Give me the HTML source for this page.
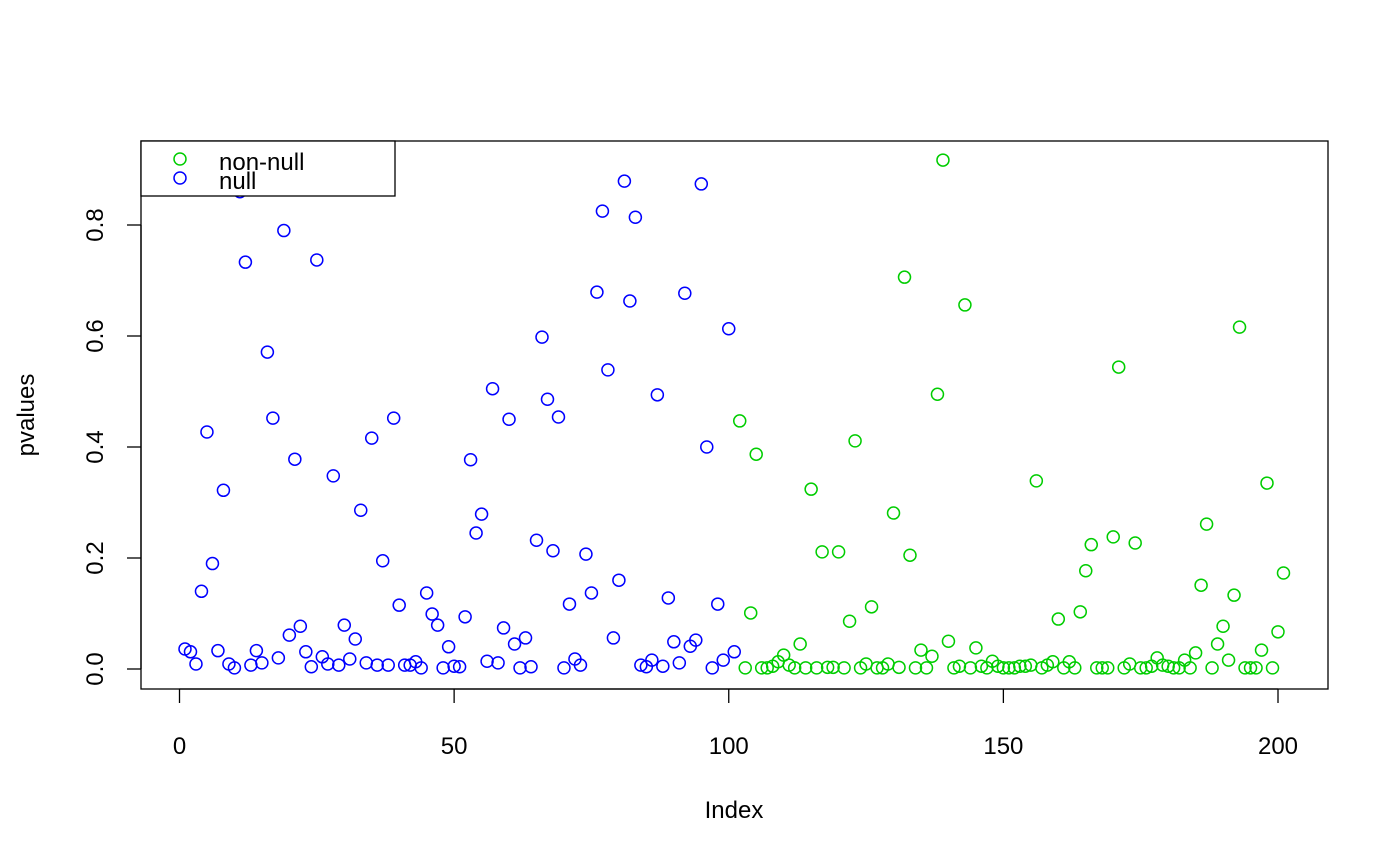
<!DOCTYPE html>
<html><head><meta charset="utf-8"><style>
body{margin:0;background:#fff}
svg{display:block;font-family:"Liberation Sans",sans-serif}
</style></head><body>
<svg id="chart" width="1400" height="865" viewBox="0 0 1400 865">
<rect x="0" y="0" width="1400" height="865" fill="#fff"/>
<g id="points"></g>
<rect x="141" y="141" width="1187" height="548" fill="none" stroke="#000" stroke-width="1.3"/>
<g id="xaxis"></g>
<g id="yaxis"></g>
<text x="734" y="818" font-size="24" text-anchor="middle">Index</text>
<text transform="translate(34,415) rotate(-90)" font-size="24" text-anchor="middle">pvalues</text>
<g>
<rect x="141" y="141" width="254" height="55" fill="#fff" stroke="#000" stroke-width="1.3"/>
<g>
<circle cx="180" cy="159" r="6" fill="none" stroke="#00cd00" stroke-width="1.5"/>
<text x="219" y="170" font-size="24">non-null</text></g>
<g>
<circle cx="180" cy="178" r="6" fill="none" stroke="#0000ff" stroke-width="1.5"/>
<text x="219" y="189" font-size="24">null</text></g>
</g>
</svg>
<script>
const nullValues=[.036,.031,.009,.14,.427,.19,.033,.322,.009,.002,.86,.733,.007,.033,.011,.571,.452,.02,.79,.061,.378,.077,.031,.004,.737,.022,.009,.348,.007,.079,.018,.054,.286,.011,.416,.007,.195,.007,.452,.115,.007,.007,.013,.002,.137,.099,.079,.002,.04,.005,.004,.094,.377,.245,.279,.014,.505,.011,.074,.45,.045,.002,.056,.004,.232,.598,.486,.213,.454,.002,.117,.018,.007,.207,.137,.679,.825,.539,.056,.16,.879,.663,.814,.007,.004,.016,.494,.005,.128,.049,.011,.677,.041,.052,.874,.4,.002,.117,.016,.613,.031];
const nonNullValues=[.447,.002,.101,.387,.002,.002,.005,.013,.025,.007,.002,.045,.002,.324,.002,.211,.003,.003,.211,.002,.086,.411,.002,.009,.112,.002,.002,.009,.281,.003,.706,.205,.002,.034,.002,.023,.495,.917,.05,.002,.005,.656,.002,.038,.005,.002,.014,.005,.002,.002,.002,.005,.005,.007,.339,.002,.007,.013,.09,.002,.013,.002,.103,.177,.224,.002,.002,.002,.238,.544,.002,.009,.227,.002,.002,.005,.02,.007,.005,.002,.002,.016,.002,.029,.151,.261,.002,.045,.077,.016,.133,.616,.002,.002,.002,.034,.335,.002,.067,.173];
const xTicks=[0,50,100,150,200];
const yTicks=[0,0.2,0.4,0.6,0.8];
const yTickLabels=["0.0","0.2","0.4","0.6","0.8"];
const NS="http://www.w3.org/2000/svg";
function xs(i){return 179.5+i*(1278-179.5)/200;}
function ys(v){return 669-v*(669-225)/0.8;}
const pts=document.getElementById('points');
function dot(i,v,color,name){
 const c=document.createElementNS(NS,'circle');
 c.setAttribute('cx',xs(i));c.setAttribute('cy',ys(v));c.setAttribute('r',6);
 c.setAttribute('fill','none');c.setAttribute('stroke',color);c.setAttribute('stroke-width',1.5);
 
 
 pts.appendChild(c);
}
nullValues.forEach((v,k)=>dot(k+1,v,'#0000ff','null-point'));
nonNullValues.forEach((v,k)=>dot(k+1+nullValues.length,v,'#00cd00','non-null-point'));
const xa=document.getElementById('xaxis');
const xl=document.createElementNS(NS,'line');
xl.setAttribute('x1',xs(xTicks[0]));xl.setAttribute('x2',xs(xTicks[xTicks.length-1]));
xl.setAttribute('y1',689);xl.setAttribute('y2',689);xl.setAttribute('stroke','#000');xl.setAttribute('stroke-width',1.3);


xa.appendChild(xl);
xTicks.forEach(t=>{
 const l=document.createElementNS(NS,'line');
 l.setAttribute('x1',xs(t));l.setAttribute('x2',xs(t));l.setAttribute('y1',689);l.setAttribute('y2',703);
 l.setAttribute('stroke','#000');l.setAttribute('stroke-width',1.3);
 
 
 xa.appendChild(l);
 const tx=document.createElementNS(NS,'text');
 tx.setAttribute('x',xs(t));tx.setAttribute('y',754);tx.setAttribute('font-size',24);tx.setAttribute('text-anchor','middle');
 tx.textContent=t;
 
 
 xa.appendChild(tx);
});
const ya=document.getElementById('yaxis');
const yl=document.createElementNS(NS,'line');
yl.setAttribute('x1',141);yl.setAttribute('x2',141);
yl.setAttribute('y1',ys(yTicks[0]));yl.setAttribute('y2',ys(yTicks[yTicks.length-1]));
yl.setAttribute('stroke','#000');yl.setAttribute('stroke-width',1.3);


ya.appendChild(yl);
yTicks.forEach((t,k)=>{
 const l=document.createElementNS(NS,'line');
 l.setAttribute('x1',127);l.setAttribute('x2',141);l.setAttribute('y1',ys(t));l.setAttribute('y2',ys(t));
 l.setAttribute('stroke','#000');l.setAttribute('stroke-width',1.3);
 
 
 ya.appendChild(l);
 const tx=document.createElementNS(NS,'text');
 tx.setAttribute('transform','translate(103,'+ys(t)+') rotate(-90)');
 tx.setAttribute('font-size',24);tx.setAttribute('text-anchor','middle');
 tx.textContent=yTickLabels[k];
 
 
 ya.appendChild(tx);
});
</script>
</body></html>
